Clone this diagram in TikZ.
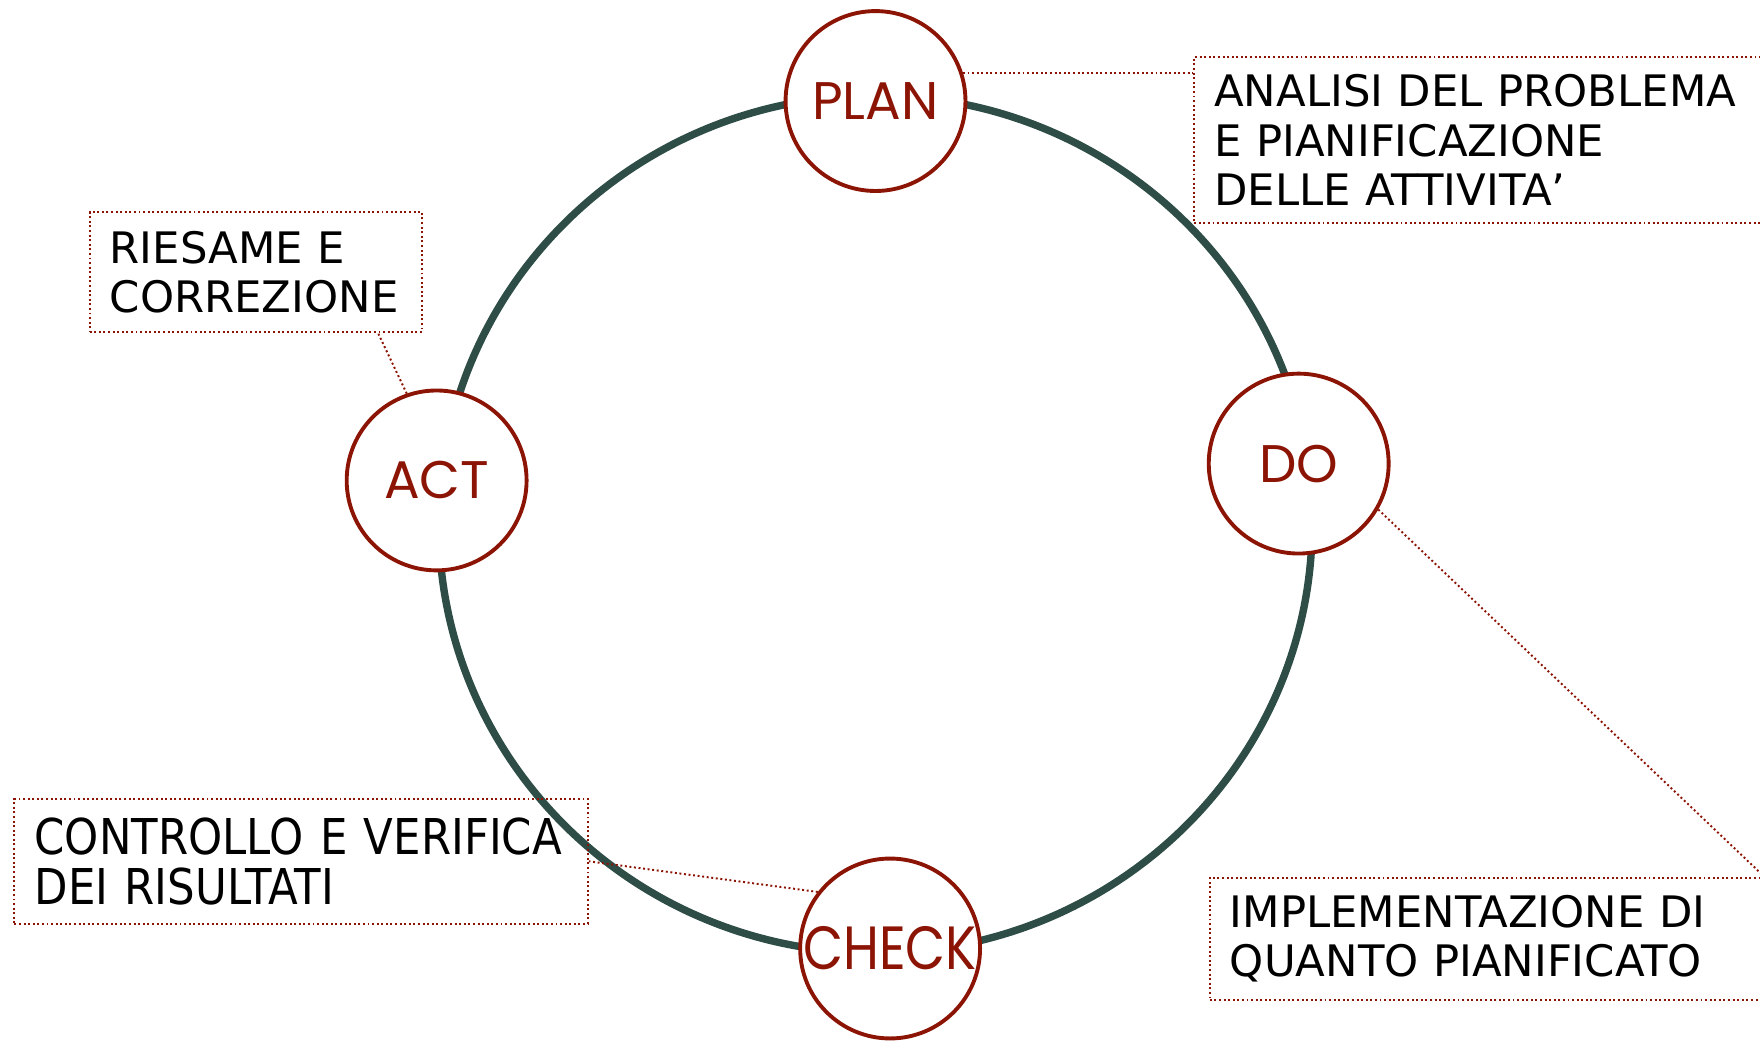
\documentclass[tikz,border=0pt]{standalone}
\usepackage{fontspec}
\setmainfont{DejaVu Sans}
\newfontfamily\phasefont{Poppins}
\newfontfamily\checkfont{Poppins}[FakeStretch=0.85]
\newfontfamily\narrowfont{DejaVu Sans}[FakeStretch=0.88]
\usetikzlibrary{calc}
\definecolor{pdcared}{RGB}{140,20,5}
\definecolor{pdcaring}{RGB}{46,77,70}

\begin{document}
\begin{tikzpicture}[x=0.3182pt, y=-0.3182pt,
  phase/.style={circle, draw=pdcared, line width=1.1pt, fill=white, minimum size=51pt, inner sep=0pt,
    text=pdcared, font=\phasefont\fontsize{15}{15}\selectfont},
  note/.style={draw=pdcared, line width=0.55pt, dash pattern=on 0.55pt off 0.75pt, anchor=north west, align=left,
    inner xsep=5.7pt, inner ysep=0pt, font=\fontsize{12.3}{14}\selectfont},
  callout/.style={draw=pdcared, line width=0.55pt, dash pattern=on 0.55pt off 0.75pt}]
\useasboundingbox (0,0) rectangle (1568,927);

% The cycle
\draw[pdcaring, line width=2.1pt] (780,467) ellipse [x radius=389, y radius=382];

% The four phases
\node[phase] (plan) at (780,90) {PLAN};
\node[phase] (do) at (1157,413) {DO};
\node[phase] (act) at (389,428) {ACT};
\node[phase, font=\checkfont\fontsize{17.3}{17.3}\selectfont] (check) at (793,845) {CHECK};

% Notes
\node[note, text width=152pt, minimum height=47.1pt] (planbox) at (1063,50)
  {ANALISI DEL PROBLEMA\\E PIANIFICAZIONE\\DELLE ATTIVITA’};
\node[note, text width=82.8pt, minimum height=34pt] (actbox) at (79,188)
  {RIESAME E\\CORREZIONE};
\node[note, text width=145.5pt, minimum height=34.7pt] (dobox) at (1077,781)
  {IMPLEMENTAZIONE DI\\QUANTO PIANIFICATO};
\node[note, text width=151.2pt, minimum height=35.3pt, font=\narrowfont\fontsize{14}{14.3}\selectfont] (checkbox) at (12,711)
  {CONTROLLO E VERIFICA\\DEI RISULTATI};

% Callout lines
\draw[callout] (plan.18) -- (plan.18 -| planbox.west);
\draw[callout] (act.109) -- ($(actbox.south east)+(-40,0)$);
\draw[callout] (do.-30) -- (dobox.north east);
\draw[callout] (check.142) -- (checkbox.east);
\end{tikzpicture}
\end{document}
